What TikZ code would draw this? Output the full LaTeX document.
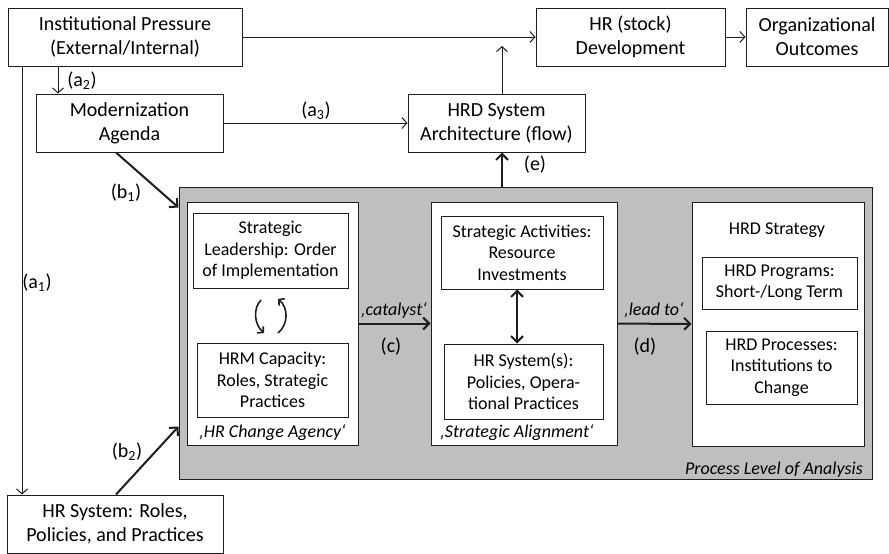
\documentclass[tikz,border=0pt]{standalone}
\usepackage{fontspec}
\setmainfont{Carlito}
\usetikzlibrary{arrows.meta}
\definecolor{procgray}{RGB}{191,191,191}
\definecolor{ink}{RGB}{30,30,30}
\tikzset{box/.style = {draw = ink, fill = white, line width = 1pt, align = center, inner sep = 0,
                       font = \fontsize{20}{24}\selectfont}}
\tikzset{inbox/.style = {box, font = \fontsize{18}{21.5}\selectfont}}
\tikzset{lbl/.style = {inner sep = 0, font = \fontsize{20}{24}\selectfont}}
\tikzset{quote/.style = {inner sep = 0, font = \fontsize{18}{21.5}\selectfont\itshape}}
\tikzset{flow/.style = {draw = ink, line width = 1pt, -{Straight Barb[length = 5pt, width = 11pt]}}}
\tikzset{push/.style = {draw = ink, line width = 2pt, -{Straight Barb[length = 6pt, width = 12pt]}}}
\tikzset{loop/.style = {draw = ink, line width = 1.6pt, -{Straight Barb[length = 4pt, width = 9pt]}}}
\tikzset{swap/.style = {draw = ink, line width = 2pt,
                        {Straight Barb[length = 6pt, width = 12pt]}-{Straight Barb[length = 6pt, width = 12pt]}}}

\begin{document}
\begin{tikzpicture}[x = 1pt, y = -1pt]
          \useasboundingbox (0, 0) rectangle (889, 554);
          % outer boxes
          \node [box, minimum width = 234pt, minimum height = 58pt] (ip) at (125, 37) {Institutional Pressure\\(External/Internal)};
          \node [box, minimum width = 187pt, minimum height = 58pt] (ma) at (129.5, 123) {Modernization\\Agenda};
          \node [box, minimum width = 177pt, minimum height = 58pt] (arch) at (496.5, 123) {HRD System\\Architecture (flow)};
          \node [box, minimum width = 189pt, minimum height = 58pt] (hrdev) at (630.5, 37) {HR (stock)\\Development};
          \node [box, minimum width = 142pt, minimum height = 58pt] (outc) at (817, 37) {Organizational\\Outcomes};
          \node [box, minimum width = 216pt, minimum height = 58pt] (hrsys) at (115, 524) {HR System: Roles,\\Policies, and Practices};

          % process level
          \node [box, fill = procgray, minimum width = 693pt, minimum height = 292pt] (proc) at (525.5, 333) {};
          \node [box, minimum width = 171pt, minimum height = 243pt] (agency) at (272.5, 323.5) {};
          \node [box, minimum width = 186pt, minimum height = 243pt] (align) at (524, 323.5) {};
          \node [box, minimum width = 172pt, minimum height = 244pt] (strat) at (778, 324) {};

          \node [inbox, minimum width = 155pt, minimum height = 75pt] (lead) at (270.5, 250.5) {Strategic\\Leadership: Order\\of Implementation};
          \node [inbox, minimum width = 151pt, minimum height = 74pt] (hrm) at (272.5, 380) {HRM Capacity:\\Roles, Strategic\\Practices};
          \node [inbox, minimum width = 162pt, minimum height = 73pt] (act) at (522, 252.5) {Strategic Activities:\\Resource\\Investments};
          \node [inbox, minimum width = 159pt, minimum height = 75pt] (sys) at (523.5, 381.5) {HR System(s):\\Policies, Opera-\\tional Practices};
          \node [inbox, draw = none, fill = none] (stitle) at (777, 230) {HRD Strategy};
          \node [inbox, minimum width = 155pt, minimum height = 52pt] (prog) at (779.5, 283) {HRD Programs:\\Short-/Long Term};
          \node [inbox, minimum width = 151pt, minimum height = 73pt] (procs) at (781.5, 367.5) {HRD Processes:\\Institutions to\\Change};

          \node [quote] (agencylbl) at (272.5, 433) {‚HR Change Agency‘};
          \node [quote] (alignlbl) at (517, 433) {‚Strategic Alignment‘};
          \node [quote, anchor = east] (plevel) at (863, 470) {Process Level of Analysis};

          % connectors
          \coordinate (a1) at (22, 0);
          \coordinate (a2) at (58, 0);
          \coordinate (meet) at (502, 46);
          \draw [flow] (ip) -- (hrdev);
          \draw [flow] (hrdev) -- (outc);
          \draw [flow] (ip.south -| a2) -- (ma.north -| a2);
          \draw [flow] (ip.south -| a1) -- (hrsys.north -| a1);
          \draw [flow] (ma) -- (arch);
          \draw [flow] (arch.north -| meet) -- (meet);
          \draw [push] (proc.north -| meet) -- (arch.south -| meet);
          \draw [push] ([xshift = -13.5pt]ma.south) -- ([yshift = -21pt]proc.north west);
          \draw [push] ([xshift = 1pt]hrsys.north) -- ([yshift = 53pt]proc.south west);
          \draw [push] (agency) -- (align);
          \draw [push] (align) -- (strat);
          \draw [swap] ([xshift = -5pt]act.south) -- ([xshift = -5pt]act.south |- sys.north);
          \draw [loop] (261, 300) .. controls (253, 308) and (254, 324) .. (264, 333);
          \draw [loop] (278, 333) .. controls (289, 324) and (288, 307) .. (278, 299);

          % labels
          \node [lbl] (a1lbl) at (37, 283) {(a\textsubscript{1})};
          \node [lbl] (a2lbl) at (82, 81) {(a\textsubscript{2})};
          \node [lbl] (a3lbl) at (316, 111) {(a\textsubscript{3})};
          \node [lbl] (b1lbl) at (126, 193) {(b\textsubscript{1})};
          \node [lbl] (b2lbl) at (127, 452) {(b\textsubscript{2})};
          \node [lbl] (elbl) at (535, 165) {(e)};
          \node [quote] (catlbl) at (394, 310) {‚catalyst‘};
          \node [lbl] (clbl) at (391, 347) {(c)};
          \node [quote] (leadlbl) at (654, 310) {‚lead to‘};
          \node [lbl] (dlbl) at (645, 347) {(d)};
        \end{tikzpicture}
\end{document}
